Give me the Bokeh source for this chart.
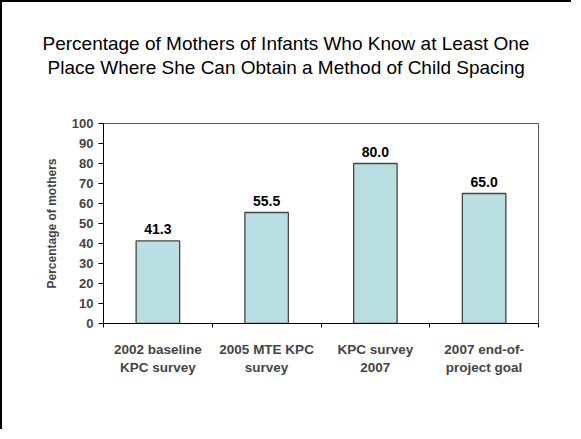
from bokeh.plotting import figure
from bokeh.models import ColumnDataSource, FixedTicker, Title
from bokeh.core.properties import value
from bokeh.embed import file_html
from bokeh.resources import INLINE

title_lines = ["Percentage of Mothers of Infants Who Know at Least One",
               "Place Where She Can Obtain a Method of Child Spacing"]
categories = ["2002 baseline\nKPC survey", "2005 MTE KPC\nsurvey", "KPC survey\n2007", "2007 end-of-\nproject goal"]
percent = [41.3, 55.5, 80.0, 65.0]
y_ticks = [0, 10, 20, 30, 40, 50, 60, 70, 80, 90, 100]

xpos = [i + 0.5 for i in range(len(categories))]
src = ColumnDataSource(dict(x=xpos, top=percent, lbl=["%.1f" % v for v in percent]))

p = figure(width=571, height=429, x_range=(0, 4), y_range=(0, 100),
           output_backend="svg", toolbar_location=None,
           min_border_left=101, min_border_right=35, min_border_top=121, min_border_bottom=108)
p.styles = {"border-left": "2px solid black", "border-top": "2px solid black"}

# title is centred on the slide, not the frame: two left-aligned lines with offsets,
# plus a blank spacer between the frame and the title
spacer = Title(text=" ", text_font_size="1px", standoff=42)
t2 = Title(text=title_lines[1], align="left", offset=-56, standoff=2,
           text_font="Liberation Sans", text_font_size="19px", text_font_style="normal", text_color="black")
t1 = Title(text=title_lines[0], align="left", offset=-61, standoff=0,
           text_font="Liberation Sans", text_font_size="19px", text_font_style="normal", text_color="black")
p.add_layout(spacer, "above")
p.add_layout(t2, "above")
p.add_layout(t1, "above")

p.vbar(x="x", top="top", width=0.4, bottom=0, source=src,
       fill_color="#b9dfe2", line_color="#444444", line_width=1.3)
p.text(x="x", y="top", text="lbl", source=src, y_offset=-7,
       text_align="center", text_baseline="bottom",
       text_font=value("Liberation Sans"), text_font_size="14px", text_font_style="bold")

p.grid.visible = False
p.outline_line_color = "#555555"
p.outline_line_width = 1
p.background_fill_color = "white"
p.border_fill_color = "white"

ya = p.yaxis[0]
ya.ticker = FixedTicker(ticks=y_ticks)
ya.minor_tick_line_color = None
ya.major_tick_out = 5
ya.major_tick_in = 0
ya.axis_line_color = "black"
ya.major_label_text_font = "Liberation Sans"
ya.major_label_text_font_size = "13px"
ya.major_label_text_font_style = "bold"
ya.major_label_standoff = 5
ya.axis_label = "Percentage of mothers"
ya.axis_label_text_font = "Liberation Sans"
ya.axis_label_text_font_size = "12px"
ya.axis_label_text_font_style = "bold"
ya.axis_label_standoff = 10

xa = p.xaxis[0]
xa.ticker = FixedTicker(ticks=xpos, minor_ticks=[0, 1, 2, 3, 4])
xa.major_label_overrides = {x: c for x, c in zip(xpos, categories)}
xa.major_tick_line_color = None
xa.major_tick_out = 0
xa.major_tick_in = 0
xa.minor_tick_line_color = "black"
xa.minor_tick_out = 4
xa.minor_tick_in = 0
xa.axis_line_color = "black"
xa.major_label_text_font = "Liberation Sans"
xa.major_label_text_font_size = "13.5px"
xa.major_label_text_font_style = "bold"
xa.major_label_standoff = 14

open("out.html", "w").write(file_html(p, INLINE))
